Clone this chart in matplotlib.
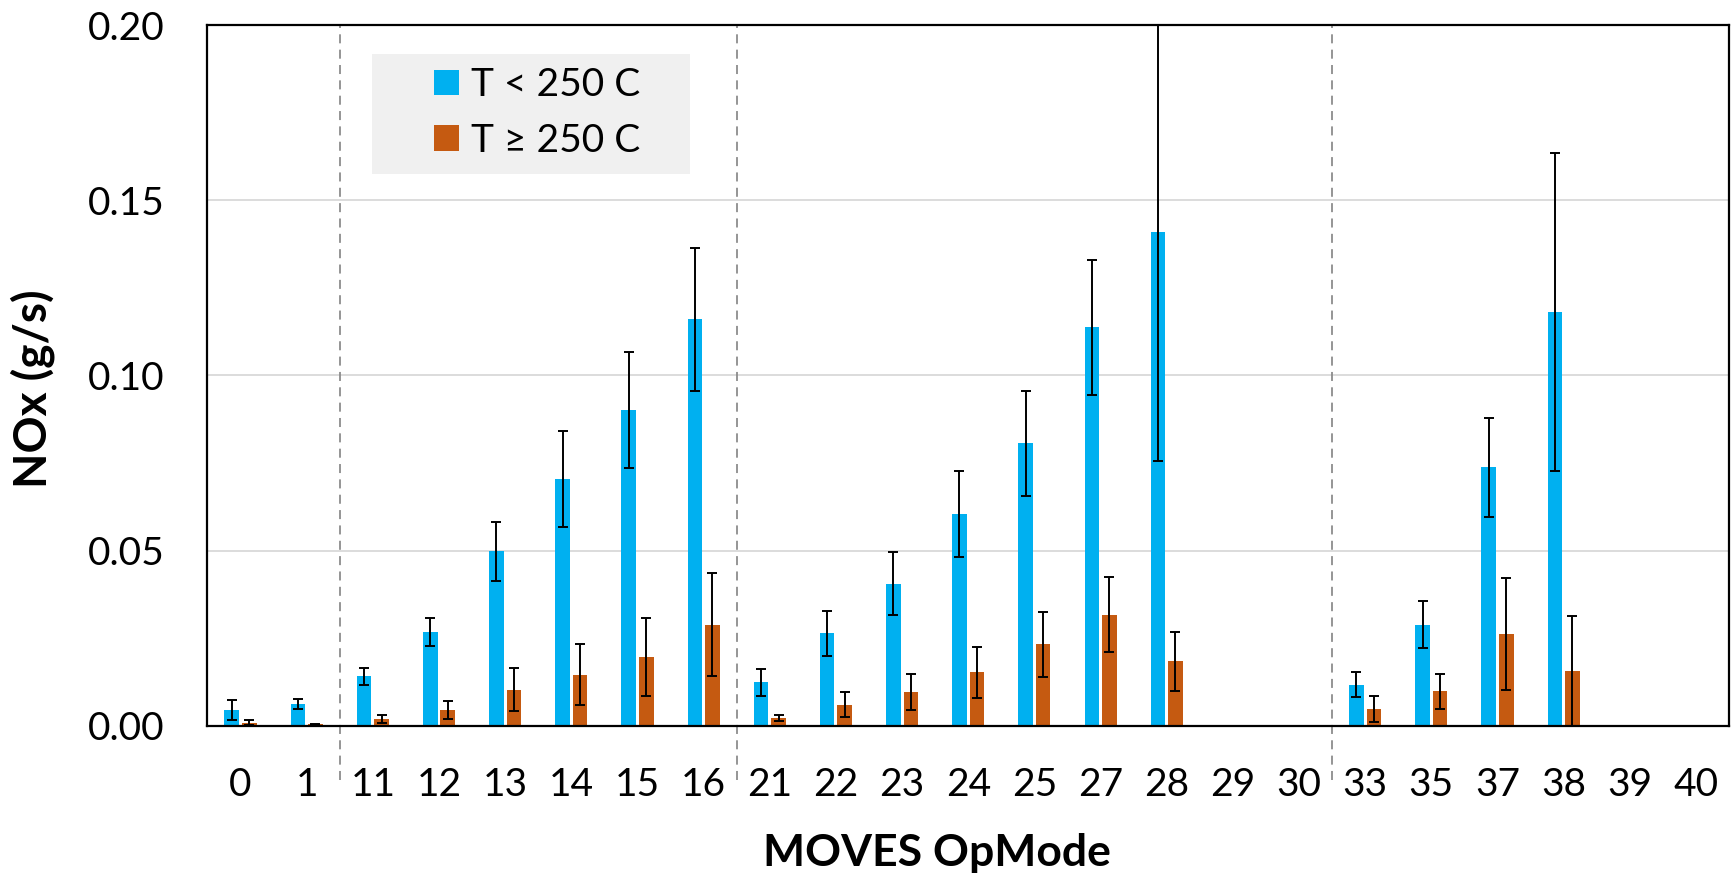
import numpy as np
import matplotlib
matplotlib.use("Agg")
import matplotlib.pyplot as plt
from matplotlib.patches import Rectangle

plt.rcParams['font.family'] = ['Lato', 'DejaVu Sans']

categories = ['0', '1', '11', '12', '13', '14', '15', '16', '21', '22', '23', '24',
              '25', '27', '28', '29', '30', '33', '35', '37', '38', '39', '40']
nan = np.nan
low_temp = [0.0045, 0.0062, 0.0141, 0.0269, 0.0498, 0.0704, 0.0901, 0.1161,
            0.0124, 0.0264, 0.0406, 0.0604, 0.0806, 0.1138, 0.1410, nan, nan,
            0.0117, 0.0289, 0.0738, 0.1181, nan, nan]
low_err = [0.0028, 0.0014, 0.0024, 0.0040, 0.0084, 0.0137, 0.0166, 0.0204,
           0.0038, 0.0064, 0.0091, 0.0123, 0.0150, 0.0193, 0.0654, nan, nan,
           0.0036, 0.0067, 0.0141, 0.0454, nan, nan]
high_temp = [0.0008, 0.0004, 0.0019, 0.0045, 0.0103, 0.0146, 0.0197, 0.0289,
             0.0023, 0.0060, 0.0097, 0.0152, 0.0232, 0.0317, 0.0184, nan, nan,
             0.0048, 0.0098, 0.0263, 0.0157, nan, nan]
high_err = [0.0007, 0.0002, 0.0011, 0.0025, 0.0062, 0.0088, 0.0112, 0.0147,
            0.0009, 0.0035, 0.0052, 0.0073, 0.0094, 0.0107, 0.0085, nan, nan,
            0.0038, 0.0051, 0.0160, 0.0157, nan, nan]
series_labels = ['T < 250 C', 'T ≥ 250 C']
group_breaks = [1.5, 7.5, 16.5]   # between OpMode groups
y_ticks = [0.00, 0.05, 0.10, 0.15, 0.20]

BLUE = '#00B0F0'
ORANGE = '#C55A11'

fig = plt.figure(figsize=(17.36, 8.8), dpi=100)
ax = fig.add_axes([0.1195, 0.1753, 0.8765, 0.796])

x = np.arange(len(categories))
w = 0.22
off = 0.1325

for vals, errs, sign, col, lab in [(low_temp, low_err, -1, BLUE, series_labels[0]),
                                   (high_temp, high_err, 1, ORANGE, series_labels[1])]:
    v = np.array(vals, dtype=float)
    e = np.array(errs, dtype=float)
    m = ~np.isnan(v)
    ax.bar(x[m] + sign * off, v[m], width=w, color=col, label=lab, zorder=2)
    ax.errorbar(x[m] + sign * off, v[m], yerr=e[m], fmt='none', ecolor='black',
                elinewidth=1.4, capsize=3.9, capthick=1.4, zorder=3)

ax.set_xlim(-0.5, len(categories) - 0.5)
ax.set_ylim(0, 0.20)
ax.set_yticks(y_ticks)
ax.set_yticklabels([f'{t:.2f}' for t in y_ticks])
ax.set_xticks(x)
ax.set_xticklabels(categories)
ax.tick_params(axis='both', length=0, labelsize=28)
ax.tick_params(axis='y', pad=31)
ax.tick_params(axis='x', pad=30)

ax.yaxis.grid(True, color='#d9d9d9', lw=1.3)
ax.set_axisbelow(True)
for s in ax.spines.values():
    s.set_color('black')
    s.set_linewidth(1.6)

trans = ax.get_xaxis_transform()
for b in group_breaks:
    ax.plot([b, b], [-0.0775, 1.0], transform=trans, color='#8c8c8c', lw=1.3,
            linestyle=(0, (5, 3.5)), clip_on=False, zorder=1)

ax.set_ylabel('NOx (g/s)', fontsize=33, fontweight='bold')
ax.set_xlabel('MOVES OpMode', fontsize=32, fontweight='bold')
ax.yaxis.set_label_coords(-0.1005, 0.4807)
ax.xaxis.set_label_coords(0.4795, -0.153)

# legend background
ax.add_patch(Rectangle((0.108, 0.788), 0.209, 0.171, transform=ax.transAxes,
                       facecolor='#f0f0f0', edgecolor='none', zorder=4))
leg = ax.legend(loc='upper left', bbox_to_anchor=(0.149, 0.94), frameon=False,
                fontsize=28, handlelength=0.64, handleheight=0.64,
                handletextpad=0.3, labelspacing=0.5, borderpad=0, borderaxespad=0)
leg.set_zorder(5)

fig.savefig('out.png', dpi=100)
